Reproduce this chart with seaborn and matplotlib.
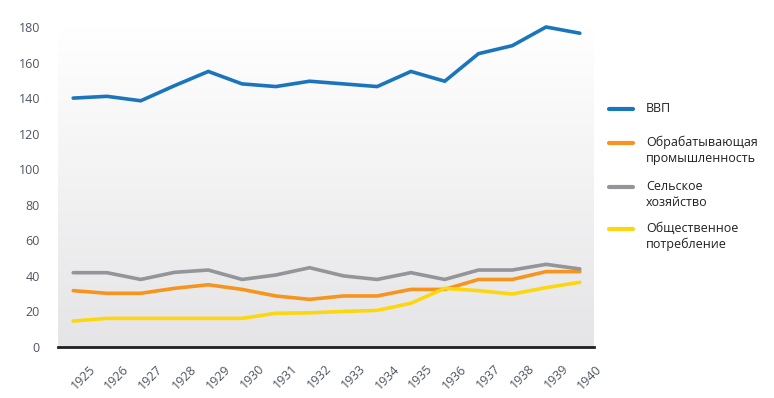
import numpy as np
import pandas as pd
import matplotlib.pyplot as plt
import matplotlib.transforms as mtransforms
from matplotlib.lines import Line2D
import seaborn as sns


# Data
years = list(range(1925, 1941))
gdp = [140, 141, 138.5, 147, 155, 148, 146.5, 149.5, 148, 146.5, 155, 149.5, 165, 169.5, 180, 176.5]
industry = [31.7, 30.2, 30.2, 33, 35, 32.4, 28.7, 26.8, 28.7, 28.7, 32.4, 32.4, 38, 38, 42.4, 42.4]
agriculture = [41.8, 41.8, 38, 42, 43.3, 38, 40.5, 44.6, 40, 38, 41.8, 38, 43.3, 43.3, 46.5, 43.9]
consumption = [14.6, 16.1, 16.1, 16.1, 16.1, 16.1, 19, 19.2, 20, 20.6, 24.6, 33, 31.7, 29.8, 33.4, 36.4]

series_names = ["ВВП", "Обрабатывающая\nпромышленность", "Сельское\nхозяйство", "Общественное\nпотребление"]
series_colors = ["#1a75bc", "#f7941d", "#939598", "#fcd70f"]
y_ticks = [0, 20, 40, 60, 80, 100, 120, 140, 160, 180]

df = pd.DataFrame({
    "year": years * 4,
    "value": gdp + industry + agriculture + consumption,
    "series": sum([[n] * len(years) for n in series_names], []),
})

sns.set_style("white")
plt.rcParams["font.family"] = ["Open Sans", "DejaVu Sans"]

fig = plt.figure(figsize=(7.74, 3.98), dpi=100)
ax = fig.add_axes([58 / 774, 51 / 398, 536 / 774, 320 / 398])

# background gradient, white at top to light grey at bottom
grad = np.linspace(0, 1, 256).reshape(-1, 1)
ax.imshow(grad, extent=[1924.55, 1940.42, 0, 180], aspect="auto",
          cmap=sns.blend_palette(["#e5e5e7", "#ffffff"], as_cmap=True),
          origin="lower", zorder=0)

sns.lineplot(data=df, x="year", y="value", hue="series", palette=series_colors,
             linewidth=2.6, legend=False, ax=ax, zorder=3)
for ln in ax.lines:
    ln.set_clip_on(False)
    ln.set_solid_joinstyle("miter")

ax.set_xlim(1924.55, 1940.42)
ax.set_ylim(0, 180)
ax.set_xlabel("")
ax.set_ylabel("")
ax.set_yticks(y_ticks)
ax.set_xticks(years)
ax.set_xticklabels([str(y) for y in years], rotation=45, ha="center", va="top")
ax.tick_params(axis="both", length=0, labelsize=9, labelcolor="#4f5562")
ax.tick_params(axis="y", pad=13)
ax.tick_params(axis="x", pad=11)
offset = mtransforms.ScaledTranslation(10 / 100, 0, fig.dpi_scale_trans)
for lbl in ax.get_xticklabels():
    lbl.set_transform(lbl.get_transform() + offset)

for side in ["top", "right", "left"]:
    ax.spines[side].set_visible(False)
ax.spines["bottom"].set_color("#231f20")
ax.spines["bottom"].set_linewidth(2)
ax.spines["bottom"].set_zorder(4)

# legend drawn by hand so the handle sits level with the first text line
legend_y = [109, 143, 187, 229]
for name, color, yp in zip(series_names, series_colors, legend_y):
    yf = 1 - yp / 398
    fig.add_artist(Line2D([609 / 774, 633 / 774], [yf, yf], color=color,
                          linewidth=3, transform=fig.transFigure))
    fig.text(646 / 774, yf, name, fontsize=9, color="#231f20",
             va="top", ha="left", linespacing=1.25,
             transform=fig.transFigure + mtransforms.ScaledTranslation(0, 7 / 100, fig.dpi_scale_trans))

fig.savefig("out.png", dpi=100)
